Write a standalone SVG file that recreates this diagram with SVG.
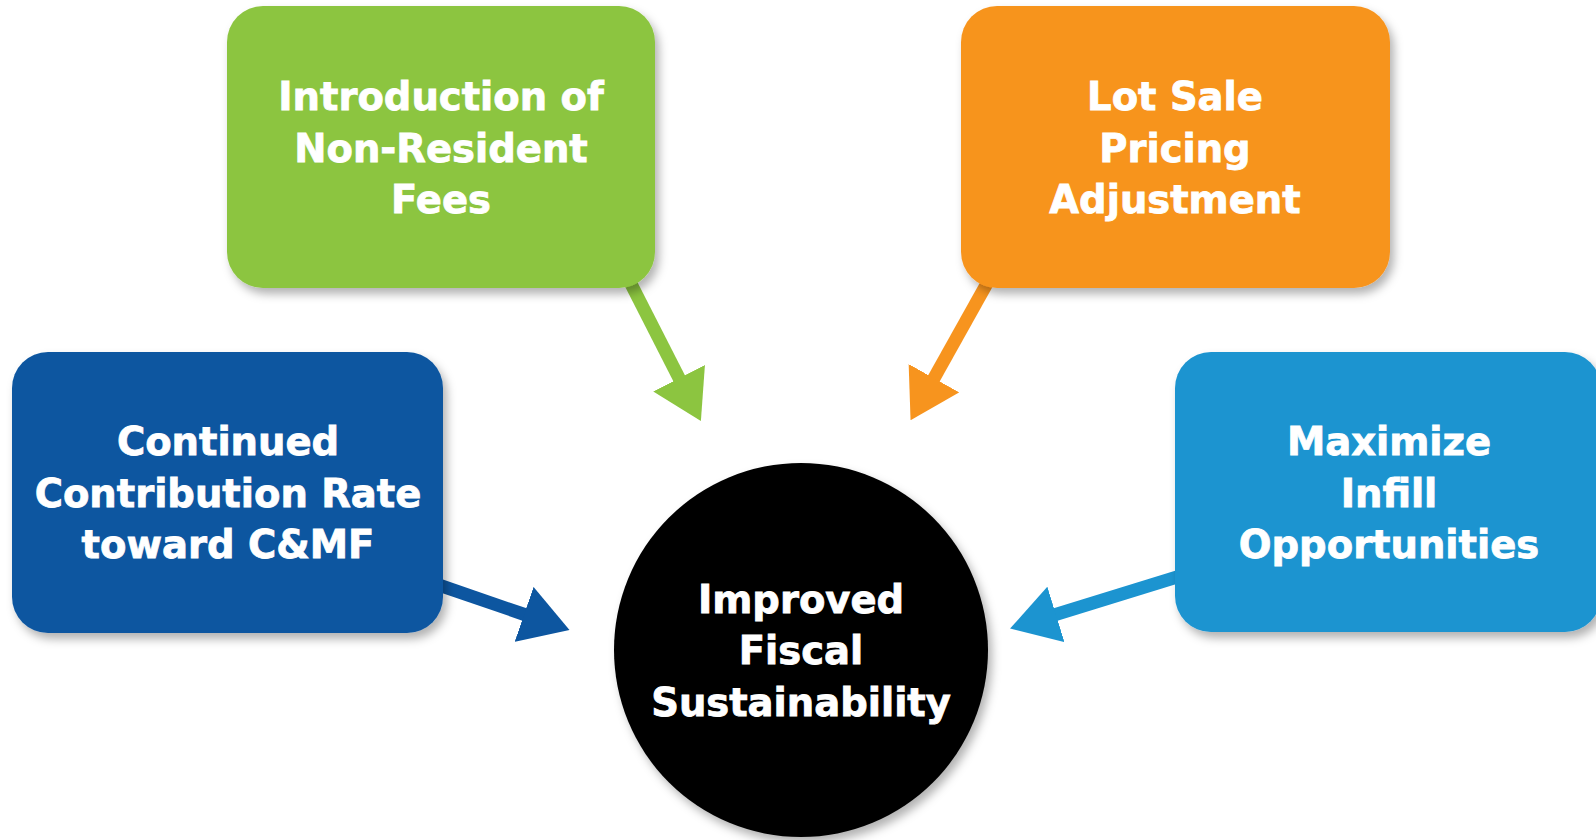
<svg xmlns="http://www.w3.org/2000/svg" width="1596" height="840" viewBox="0 0 1596 840">
<style>
.lbl{font-family:"DejaVu Sans","Liberation Sans",sans-serif;font-weight:bold;font-size:38.5px;fill:#ffffff;stroke:#ffffff;stroke-width:0.8px;text-anchor:middle}
.box{filter:url(#sh)}
.green{fill:#8cc540}.orange{fill:#f7941e}.dblue{fill:#0d56a0}.lblue{fill:#1c94d0}
.c{fill:none;stroke-width:13}
</style>
<defs>
<filter id="sh" x="-10%" y="-10%" width="130%" height="130%">
<feDropShadow dx="4" dy="6" stdDeviation="5" flood-color="#000" flood-opacity="0.3"/>
</filter>
<marker id="mg" viewBox="0 -29 48 58" refX="2" refY="0" markerWidth="48" markerHeight="58" markerUnits="userSpaceOnUse" orient="auto"><path d="M0,-29 L48,0 L0,29 z" fill="#8cc540"/></marker>
<marker id="mo" viewBox="0 -29 48 58" refX="2" refY="0" markerWidth="48" markerHeight="58" markerUnits="userSpaceOnUse" orient="auto"><path d="M0,-29 L48,0 L0,29 z" fill="#f7941e"/></marker>
<marker id="md" viewBox="0 -29 48 58" refX="2" refY="0" markerWidth="48" markerHeight="58" markerUnits="userSpaceOnUse" orient="auto"><path d="M0,-29 L48,0 L0,29 z" fill="#0d56a0"/></marker>
<marker id="ml" viewBox="0 -29 48 58" refX="2" refY="0" markerWidth="48" markerHeight="58" markerUnits="userSpaceOnUse" orient="auto"><path d="M0,-29 L48,0 L0,29 z" fill="#1c94d0"/></marker>
</defs>
<rect width="1596" height="840" fill="#ffffff"/>
<g id="connectors">
<line class="c" x1="628" y1="278" x2="680" y2="380" stroke="#8cc540" marker-end="url(#mg)"/>
<line class="c" x1="990" y1="278" x2="933" y2="380" stroke="#f7941e" marker-end="url(#mo)"/>
<line class="c" x1="430" y1="582" x2="526" y2="615" stroke="#0d56a0" marker-end="url(#md)"/>
<line class="c" x1="1190" y1="573" x2="1054" y2="615" stroke="#1c94d0" marker-end="url(#ml)"/>
</g>
<g id="node-nonresident">
<rect class="box green" x="227" y="6" width="428" height="282" rx="36"/>
<text class="lbl" x="441" y="110">Introduction of</text>
<text class="lbl" x="441" y="162">Non-Resident</text>
<text class="lbl" x="441" y="213">Fees</text>
</g>
<g id="node-lotsale">
<rect class="box orange" x="961" y="6" width="429" height="282" rx="36"/>
<text class="lbl" x="1175" y="110">Lot Sale</text>
<text class="lbl" x="1175" y="162">Pricing</text>
<text class="lbl" x="1175" y="213">Adjustment</text>
</g>
<g id="node-contribution">
<rect class="box dblue" x="12" y="352" width="431" height="281" rx="36"/>
<text class="lbl" x="228" y="455">Continued</text>
<text class="lbl" x="228" y="507">Contribution Rate</text>
<text class="lbl" x="228" y="558">toward C&amp;MF</text>
</g>
<g id="node-infill">
<rect class="box lblue" x="1175" y="352" width="426" height="280" rx="36"/>
<text class="lbl" x="1389" y="455">Maximize</text>
<text class="lbl" x="1389" y="507">Infill</text>
<text class="lbl" x="1389" y="558">Opportunities</text>
</g>
<g id="node-fiscal">
<circle class="box" cx="801" cy="650" r="187" fill="#000000"/>
<text class="lbl" x="801" y="613">Improved</text>
<text class="lbl" x="801" y="664">Fiscal</text>
<text class="lbl" x="801" y="716">Sustainability</text>
</g>
</svg>
